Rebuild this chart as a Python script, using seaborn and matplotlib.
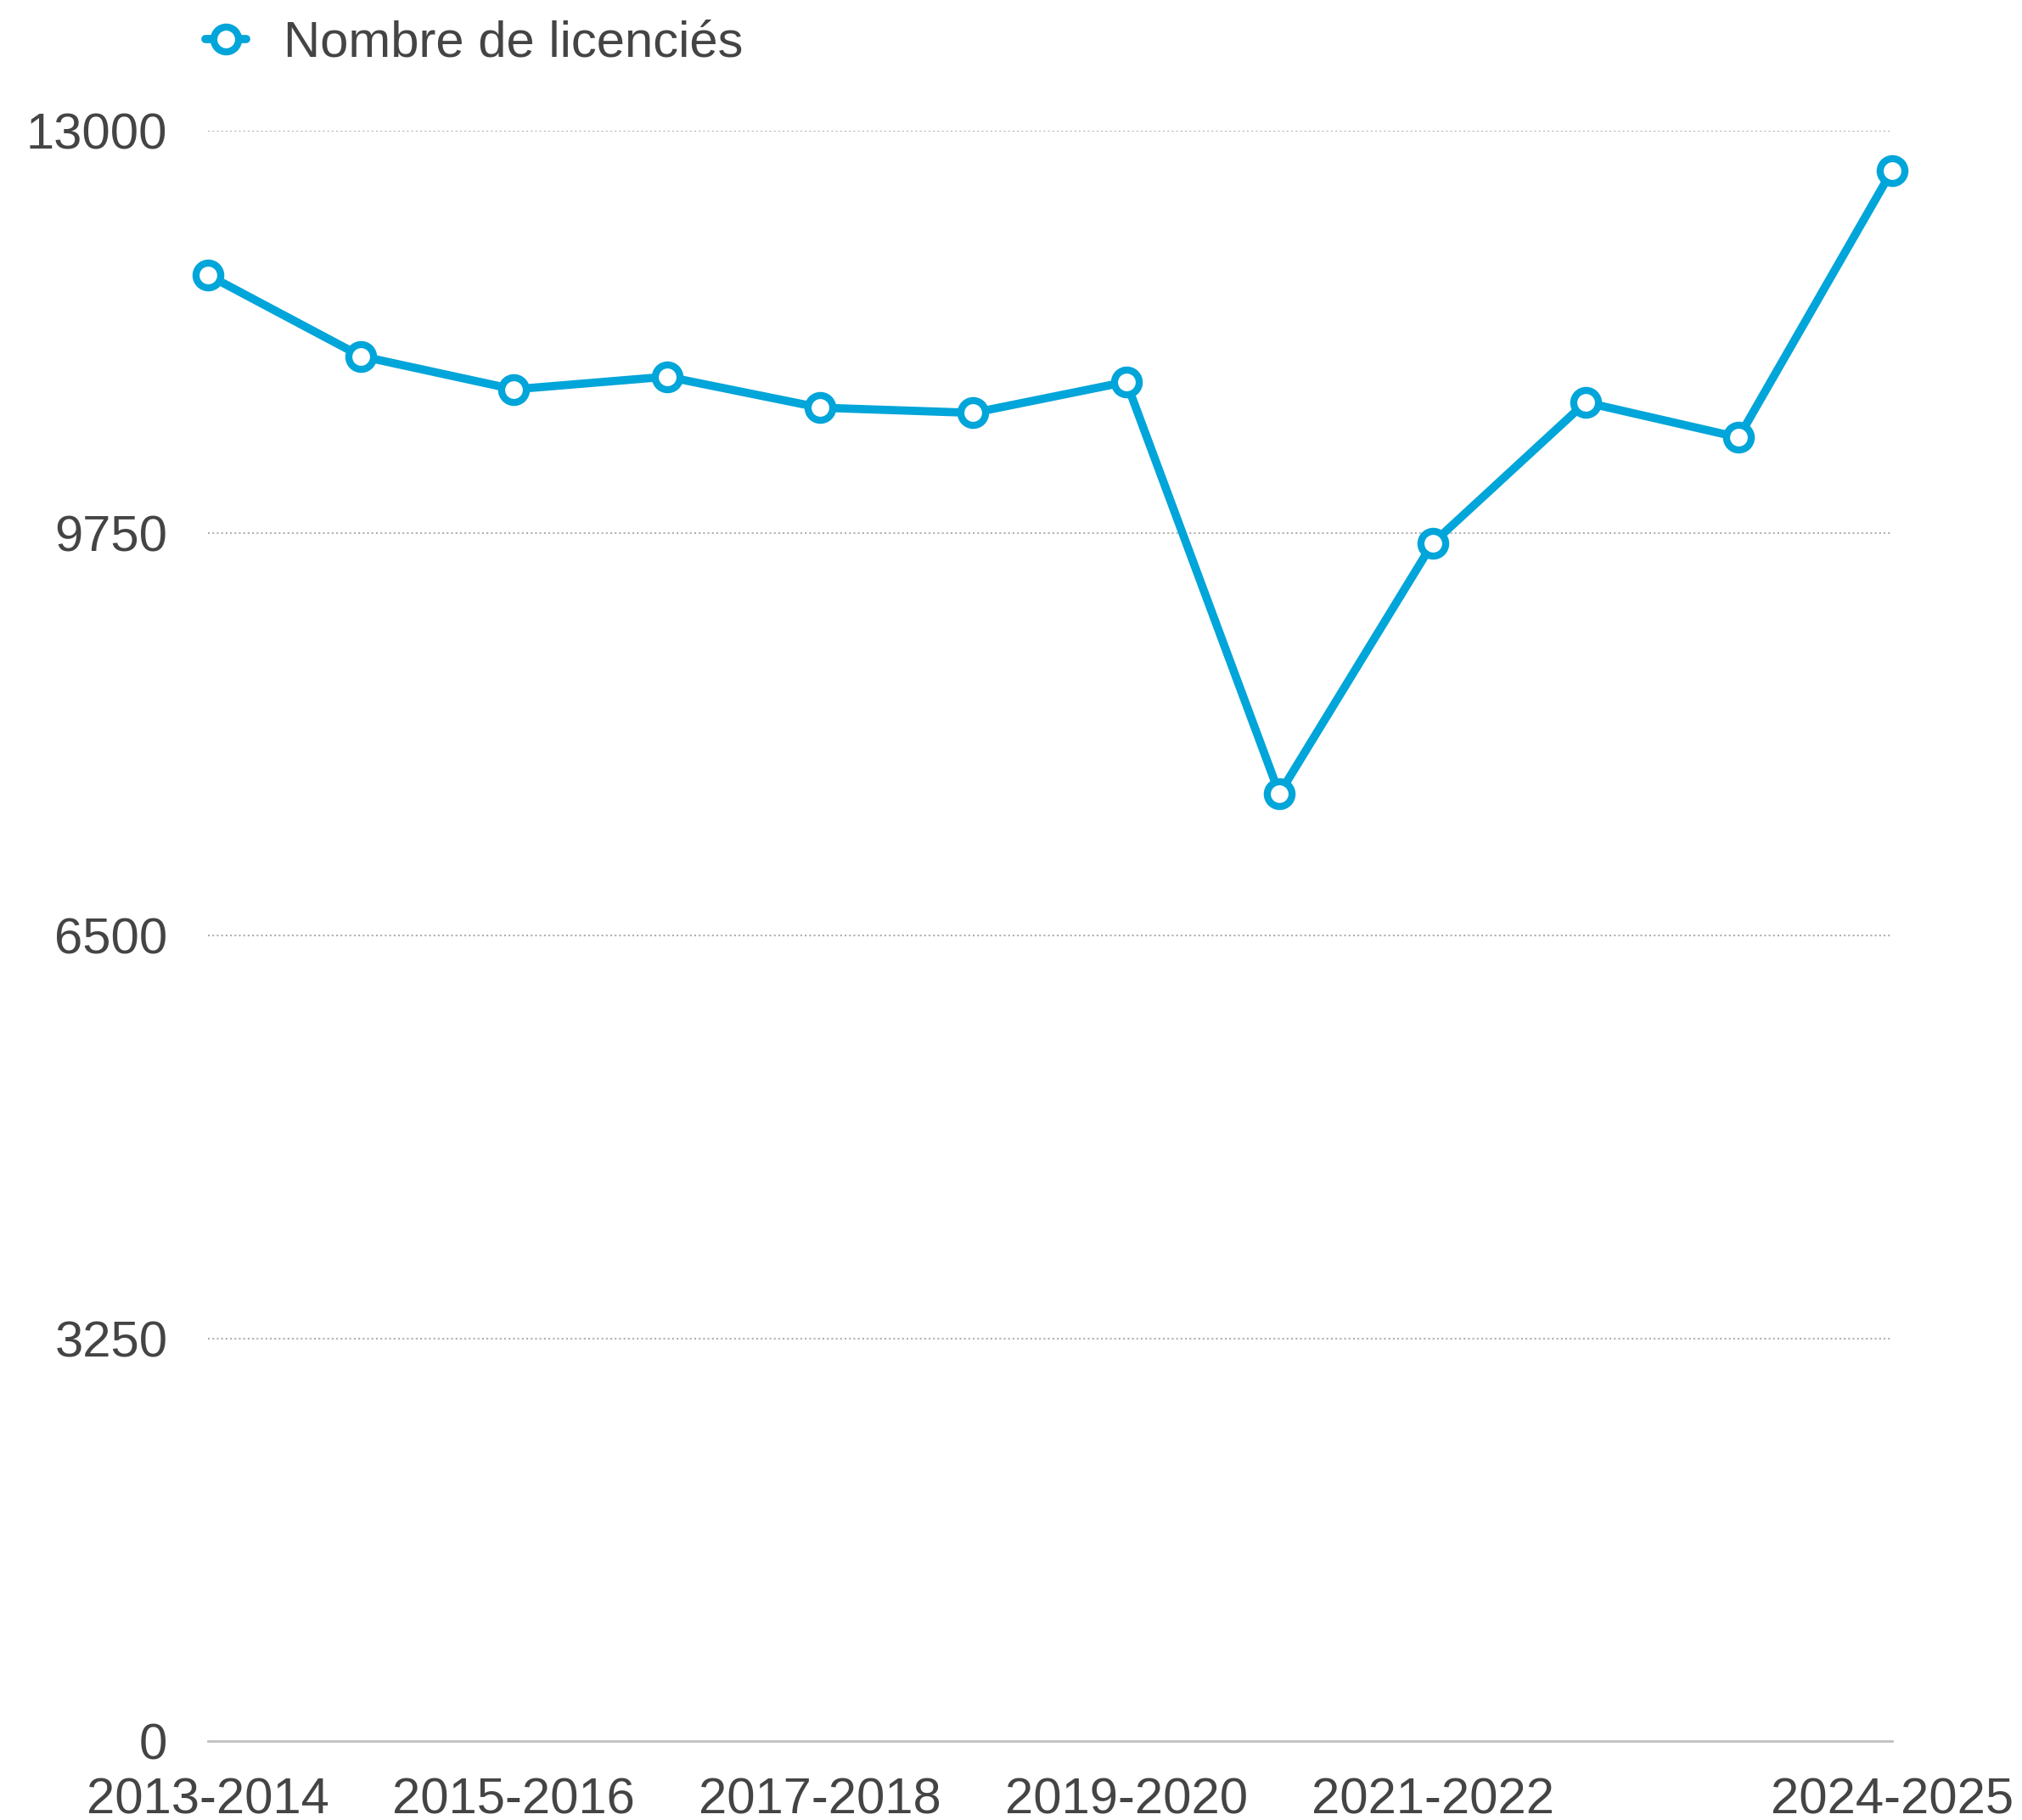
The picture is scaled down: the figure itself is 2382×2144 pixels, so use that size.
import matplotlib
matplotlib.use("Agg")
import matplotlib.pyplot as plt
import seaborn as sns
import pandas as pd

seasons = ['2013-2014', '2014-2015', '2015-2016', '2016-2017', '2017-2018', '2018-2019',
           '2019-2020', '2020-2021', '2021-2022', '2022-2023', '2023-2024', '2024-2025']
licencies = [11834, 11178, 10910, 11012, 10762, 10720, 10970, 7646, 9666, 10805, 10522, 12672]
shown_labels = [0, 2, 4, 6, 8, 11]
y_ticks = [0, 3250, 6500, 9750, 13000]

blue = '#00a5d9'
grey_text = '#444444'

sns.set_style('white')
plt.rcParams['font.family'] = ['Liberation Sans', 'DejaVu Sans']

df = pd.DataFrame({'pos': range(len(seasons)), 'saison': seasons, 'n': licencies})

fig = plt.figure(figsize=(23.82, 21.44), dpi=100)
ax = fig.add_axes([0.1027, 0.0432, 0.8329, 0.8852])

sns.lineplot(data=df, x='pos', y='n', ax=ax, color=blue, linewidth=7,
             marker='o', markersize=21, markerfacecolor='white',
             markeredgecolor=blue, markeredgewidth=6, label='Nombre de licenciés',
             clip_on=False, zorder=5)

ax.set_xlim(0, len(seasons) - 1)
ax.set_ylim(0, 13000)
ax.set_yticks(y_ticks)
ax.set_yticklabels([str(v) for v in y_ticks])
ax.set_xticks(shown_labels)
ax.set_xticklabels([seasons[i] for i in shown_labels])
ax.set_xlabel('')
ax.set_ylabel('')

for v in y_ticks[1:]:
    ax.axhline(v, color='#b0b0b0', linewidth=1.5, linestyle=(0, (1, 1.5)), zorder=1)

for side in ['top', 'right', 'left']:
    ax.spines[side].set_visible(False)
ax.spines['bottom'].set_color('#c0c0c0')
ax.spines['bottom'].set_linewidth(2)

ax.tick_params(axis='both', length=0, labelsize=43, colors=grey_text)
ax.tick_params(axis='y', pad=34)
ax.tick_params(axis='x', pad=30)

leg = ax.legend(loc='upper left', bbox_to_anchor=(0.079, 1.014), bbox_transform=fig.transFigure,
                frameon=False, fontsize=43, handlelength=0.8, handletextpad=0.75,
                labelcolor=grey_text)

fig.savefig('out.png', dpi=100)
